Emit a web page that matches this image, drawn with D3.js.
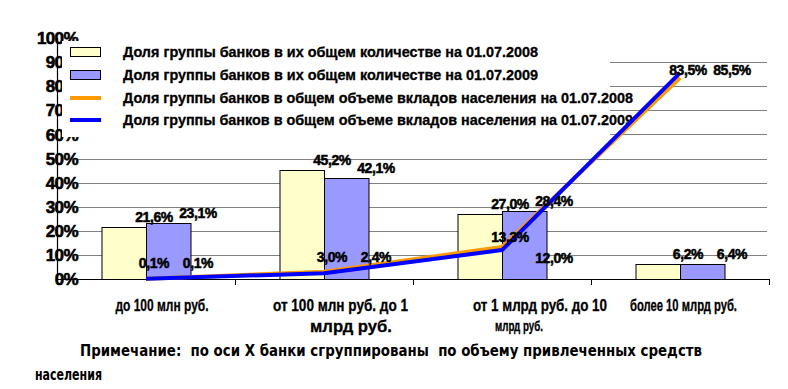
<!DOCTYPE html>
<html>
<head>
<meta charset="utf-8">
<script src="https://cdn.jsdelivr.net/npm/d3@7"></script>
<style>
  body { margin: 0; background: #fff; }
  svg { display: block; }
</style>
</head>
<body>
<div id="chart"></div>
<script>
// categories (x axis, wrapped as in the picture)
const categoryLines = [
  ["до 100 млн руб."],
  ["от 100 млн руб. до 1", "млрд руб."],
  ["от 1 млрд руб. до 10", "млрд руб."],
  ["более 10 млрд руб."]
];
const seriesNames = [
  "Доля группы банков в их общем количестве на 01.07.2008",
  "Доля группы банков в их общем количестве на 01.07.2009",
  "Доля группы банков в общем объеме вкладов населения на 01.07.2008",
  "Доля группы банков в общем объеме вкладов населения на 01.07.2009"
];
const countShare2008 = [21.6, 45.2, 27.0, 6.2];
const countShare2009 = [23.1, 42.1, 28.4, 6.4];
const depositShare2008 = [0.1, 3.0, 13.3, 83.5];
const depositShare2009 = [0.1, 2.4, 12.0, 85.5];
const yTicks = [0, 10, 20, 30, 40, 50, 60, 70, 80, 90, 100];
const noteLines = [
  "Примечание:  по оси X банки сгруппированы  по объему привлеченных средств",
  "населения"
];

const width = 788, height = 389;
const plot = {left: 57, right: 769, top: 38, bottom: 279};
const barColors = ["#FFFFCC", "#9999FF"];
const lineColors = ["#FF9900", "#0000FF"];
const boldArial = "'Liberation Sans', Arial, sans-serif";

const fmt = v => d3.format(".1f")(v).replace(".", ",") + "%";

// heavy text like the original bitmap
const heavy = (sel, sw) => sel.attr("stroke", "#000").attr("stroke-width", sw).attr("paint-order", "stroke");

const svg = d3.select("#chart").append("svg")
  .attr("width", width)
  .attr("height", height);

svg.append("rect").attr("width", width).attr("height", height).attr("fill", "#fff");

const x = d3.scaleBand()
  .domain(d3.range(categoryLines.length))
  .range([plot.left, plot.right])
  .paddingInner(0).paddingOuter(0);
const y = d3.scaleLinear().domain([0, 100]).range([plot.bottom, plot.top]);
const bw = x.bandwidth() / 4;
const cx = i => x(i) + x.bandwidth() / 2;

// gridlines
svg.append("g").selectAll("line")
  .data(yTicks.filter(t => t > 0 && t < 100))
  .enter().append("line")
  .attr("x1", 77).attr("x2", 767)
  .attr("y1", d => Math.round(y(d)) + 0.5).attr("y2", d => Math.round(y(d)) + 0.5)
  .attr("stroke", "#808080").attr("stroke-width", 1);

// y tick labels
svg.append("g").selectAll("text")
  .data(yTicks)
  .enter().append("text")
  .attr("x", 78).attr("y", d => y(d))
  .attr("dy", "0.36em")
  .attr("text-anchor", "end")
  .style("font", "bold 17px " + boldArial)
  .style("letter-spacing", "-0.6px")
  .text(d => d + "%")
  .call(heavy, 0.6);

// legend box (hides part of the axis labels and grid as in the picture)
const legend = svg.append("g");
legend.append("rect")
  .attr("x", 62).attr("y", 41).attr("width", 548).attr("height", 96)
  .attr("fill", "#fff");

// bars
const barSeries = [countShare2008, countShare2009];
barSeries.forEach((vals, s) => {
  svg.append("g").selectAll("rect")
    .data(vals)
    .enter().append("rect")
    .attr("x", (d, i) => cx(i) - bw + s * bw + 0.5)
    .attr("y", d => Math.round(y(d)) + 0.5)
    .attr("width", bw)
    .attr("height", d => plot.bottom - Math.round(y(d)))
    .attr("fill", barColors[s])
    .attr("stroke", "#000").attr("stroke-width", 1);
});

// axes lines
svg.append("line")
  .attr("x1", plot.left + 0.5).attr("x2", plot.left + 0.5)
  .attr("y1", plot.top).attr("y2", plot.bottom)
  .attr("stroke", "#000").attr("stroke-width", 1.2);
svg.append("line")
  .attr("x1", plot.left).attr("x2", plot.right)
  .attr("y1", plot.bottom + 0.5).attr("y2", plot.bottom + 0.5)
  .attr("stroke", "#000").attr("stroke-width", 1.2);
svg.append("g").selectAll("line")
  .data(d3.range(categoryLines.length + 1))
  .enter().append("line")
  .attr("x1", i => (i < categoryLines.length ? x(i) : plot.right) + 0.5)
  .attr("x2", i => (i < categoryLines.length ? x(i) : plot.right) + 0.5)
  .attr("y1", plot.bottom).attr("y2", plot.bottom + 6)
  .attr("stroke", "#000");

// legend contents
const legendRows = [52, 75, 98, 120];
const legendWidths = [415, 415, 510, 510];
[0, 1].forEach(s => {
  legend.append("rect")
    .attr("x", 70.5).attr("y", legendRows[s] - 4.5)
    .attr("width", 30).attr("height", 9)
    .attr("fill", barColors[s]).attr("stroke", "#000");
});
[0, 1].forEach(s => {
  legend.append("line")
    .attr("x1", 70).attr("x2", 101)
    .attr("y1", legendRows[s + 2]).attr("y2", legendRows[s + 2])
    .attr("stroke", lineColors[s]).attr("stroke-width", 4);
});
legend.selectAll("text.leg")
  .data(seriesNames)
  .enter().append("text")
  .attr("class", "leg")
  .attr("x", 123).attr("y", (d, i) => legendRows[i] + 5)
  .attr("textLength", (d, i) => legendWidths[i])
  .attr("lengthAdjust", "spacingAndGlyphs")
  .style("font", "bold 14px " + boldArial)
  .text(d => d)
  .call(heavy, 0.3);

// lines
const lineSeries = [depositShare2008, depositShare2009];
const line = d3.line().x((d, i) => cx(i)).y(d => y(d));
lineSeries.forEach((vals, s) => {
  svg.append("path")
    .datum(vals)
    .attr("d", line)
    .attr("fill", "none")
    .attr("stroke", lineColors[s])
    .attr("stroke-width", 4)
    .attr("stroke-linejoin", "round");
});

// data labels: bars
const labelDx = [8, 52];
barSeries.forEach((vals, s) => {
  svg.append("g").selectAll("text")
    .data(vals)
    .enter().append("text")
    .attr("x", (d, i) => cx(i) + labelDx[s])
    .attr("y", d => y(d) - 5)
    .attr("text-anchor", "middle")
    .style("font", "bold 14px " + boldArial)
    .style("letter-spacing", "-0.4px")
    .text(fmt)
    .call(heavy, 0.5);
});

// data labels: lines (nudged like the original)
const lineLabelDy = [[-11, -10, -5, -3], [-11, -11, 13, 2]];
lineSeries.forEach((vals, s) => {
  svg.append("g").selectAll("text")
    .data(vals)
    .enter().append("text")
    .attr("x", (d, i) => cx(i) + labelDx[s])
    .attr("y", (d, i) => y(d) + lineLabelDy[s][i])
    .attr("text-anchor", "middle")
    .style("font", "bold 14px " + boldArial)
    .style("letter-spacing", "-0.4px")
    .text(fmt)
    .call(heavy, 0.5);
});

// category labels
const catLayout = [
  [{dx: 16, y: 311, w: 93, size: 16}],
  [{dx: 16.5, y: 311, w: 135, size: 16}, {dx: 27, y: 332, w: 82, size: 17}],
  [{dx: 38, y: 311, w: 134, size: 16}, {dx: 17, y: 331, w: 48, size: 14}],
  [{dx: 3.5, y: 311, w: 107, size: 16}]
];
categoryLines.forEach((lines, i) => {
  lines.forEach((t, j) => {
    const l = catLayout[i][j];
    svg.append("text")
      .attr("x", cx(i) + l.dx - l.w / 2)
      .attr("y", l.y)
      .attr("textLength", l.w)
      .attr("lengthAdjust", "spacingAndGlyphs")
      .style("font", "bold " + l.size + "px " + boldArial)
      .text(t)
      .call(heavy, 0.3);
  });
});

// note
const noteLayout = [{x: 80, y: 356, w: 622}, {x: 35, y: 380, w: 67}];
noteLines.forEach((t, i) => {
  svg.append("text")
    .attr("x", noteLayout[i].x).attr("y", noteLayout[i].y)
    .attr("textLength", noteLayout[i].w)
    .attr("lengthAdjust", "spacingAndGlyphs")
    .style("font", "bold 15px 'DejaVu Sans', Verdana, sans-serif")
    .style("white-space", "pre")
    .text(t);
});
</script>
</body>
</html>
